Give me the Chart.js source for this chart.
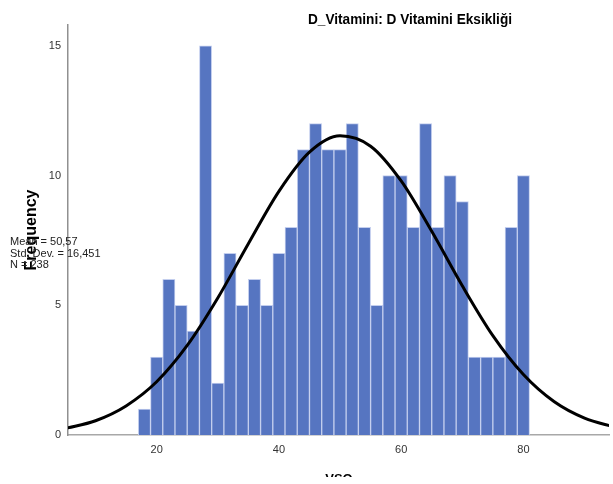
<!DOCTYPE html>
<html lang="tr">
<head>
  <meta charset="UTF-8">
  <title>D_Vitamini: D Vitamini Eksikliği</title>
  <style>
    * { margin: 0; padding: 0; box-sizing: border-box; }
    body { background: #fff; width: 613px; height: 484px; overflow: hidden; }
    canvas { display: block; }
  </style>
</head>
<body>
  <canvas id="chart" width="613" height="484"></canvas>

  <script src="https://cdn.jsdelivr.net/npm/chart.js"></script>
  <script>
    // histogram bins (width 2, centres) and their counts
    const binCenters = [18, 20, 22, 24, 26, 28, 30, 32, 34, 36, 38, 40, 42, 44, 46, 48,
                        50, 52, 54, 56, 58, 60, 62, 64, 66, 68, 70, 72, 74, 76, 78, 80];
    const counts = [1, 3, 6, 5, 4, 15, 2, 7, 5, 6, 5, 7, 8, 11, 12, 11,
                    11, 12, 8, 5, 10, 10, 8, 12, 8, 10, 9, 3, 3, 3, 8, 10];

    // normal curve
    const curveX = [5, 10, 15, 20, 25, 30, 35, 40, 45, 50, 55, 60, 65, 70, 75, 80, 85, 90, 95];
    const curveY = [0.25, 0.55, 1.12, 2.05, 3.45, 5.28, 7.37, 9.39, 10.90, 11.53,
                    11.13, 9.79, 7.85, 5.75, 3.83, 2.33, 1.29, 0.65, 0.30];

    const xTicks = [20, 40, 60, 80];
    const yTicks = [0, 5, 10, 15];

    const titleText = 'D_Vitamini: D Vitamini Eksikliği';
    const xTitle = 'VSO';
    const yTitle = 'Frequency';
    const statsLines = ['Mean = 50,57', 'Std. Dev. = 16,451', 'N = 238'];

    const FONT = "'Liberation Sans', Arial, sans-serif";

    // title, axis titles and the stats box
    const textPlugin = {
      id: 'texts',
      afterDraw(chart) {
        const ctx = chart.ctx;
        ctx.save();
        ctx.fillStyle = '#000';
        ctx.textAlign = 'center';
        ctx.textBaseline = 'alphabetic';
        ctx.font = 'bold 14px ' + FONT;
        ctx.fillText(titleText, 410, 24, 204);

        // x title is cut off at the bottom in the original
        ctx.save();
        ctx.beginPath();
        ctx.rect(0, 0, 613, 477);
        ctx.clip();
        ctx.font = 'bold 13px ' + FONT;
        ctx.fillText(xTitle, 339, 482.5);
        ctx.restore();

        ctx.save();
        ctx.translate(36, 230);
        ctx.rotate(-Math.PI / 2);
        ctx.font = 'bold 16px ' + FONT;
        ctx.fillText(yTitle, 0, 0);
        ctx.restore();

        ctx.textAlign = 'left';
        ctx.font = '11px ' + FONT;
        ctx.fillStyle = '#222';
        statsLines.forEach((s, i) => ctx.fillText(s, 10, 245 + i * 11.5));
        ctx.restore();
      }
    };

    const chart = new Chart(document.getElementById('chart'), {
      type: 'bar',
      data: {
        datasets: [
          {
            type: 'line',
            data: curveX.map((x, i) => ({ x: x, y: curveY[i] })),
            borderColor: '#000',
            borderWidth: 3,
            pointRadius: 0,
            fill: false,
            cubicInterpolationMode: 'monotone',
            order: 0
          },
          {
            type: 'bar',
            data: binCenters.map((x, i) => ({ x: x, y: counts[i] })),
            backgroundColor: '#5675C1',
            borderColor: '#C3CEEE',
            borderWidth: 1,
            borderSkipped: 'bottom',
            barPercentage: 1,
            categoryPercentage: 1,
            order: 1
          }
        ]
      },
      options: {
        responsive: false,
        animation: false,
        layout: { padding: { top: 25, right: 4, left: 0, bottom: 0 } },
        plugins: {
          legend: { display: false },
          title: { display: false },
          tooltip: { enabled: false }
        },
        scales: {
          x: {
            type: 'linear',
            min: 5.5,
            max: 94,
            offset: false,
            grid: { display: false, drawTicks: false },
            border: { display: true, color: '#A8A8A8', width: 1.5 },
            ticks: { color: '#333', font: { size: 11, family: FONT }, padding: 8, maxRotation: 0 },
            afterBuildTicks: s => { s.ticks = xTicks.map(v => ({ value: v })); },
            afterFit: s => { s.height = 49; }
          },
          y: {
            min: 0,
            max: 15.8,
            grid: { display: false, drawTicks: false },
            border: { display: true, color: '#909090', width: 1.5 },
            ticks: { color: '#333', font: { size: 11, family: FONT }, padding: 7 },
            afterBuildTicks: s => { s.ticks = yTicks.map(v => ({ value: v })); },
            afterFit: s => { s.width = 68; }
          }
        }
      },
      plugins: [textPlugin]
    });
  </script>
</body>
</html>
